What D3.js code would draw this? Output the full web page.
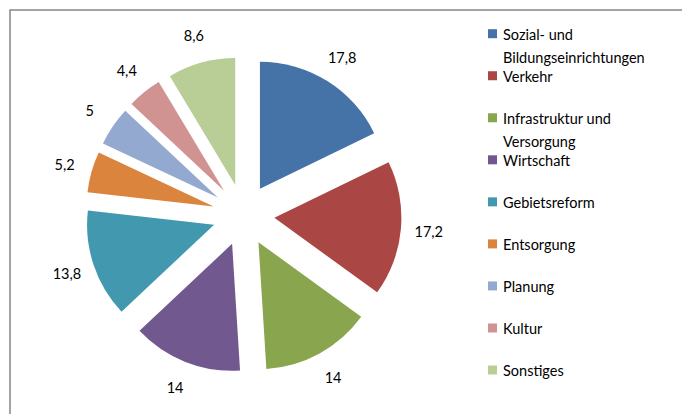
<!DOCTYPE html>
<html>
<head>
<meta charset="utf-8">
<script src="https://cdn.jsdelivr.net/npm/d3@7"></script>
<style>
  body { margin: 0; background: #fff; }
  text { font-family: Lato, "Open Sans", sans-serif; fill: #000; }
</style>
</head>
<body>
<div id="chart"></div>
<script>
const categories = ["Sozial- und Bildungseinrichtungen", "Verkehr", "Infrastruktur und Versorgung",
  "Wirtschaft", "Gebietsreform", "Entsorgung", "Planung", "Kultur", "Sonstiges"];
const legendLines = [["Sozial- und", "Bildungseinrichtungen"], ["Verkehr"], ["Infrastruktur und", "Versorgung"],
  ["Wirtschaft"], ["Gebietsreform"], ["Entsorgung"], ["Planung"], ["Kultur"], ["Sonstiges"]];
const values = [17.8, 17.2, 14, 14, 13.8, 5.2, 5, 4.4, 8.6];
const valueLabels = ["17,8", "17,2", "14", "14", "13,8", "5,2", "5", "4,4", "8,6"];
const colors = ["#4572A7", "#AA4643", "#89A54E", "#71588F", "#4198AF", "#DB843D", "#93A9CF", "#D19392", "#B9CD96"];

const width = 682, height = 414;
const cx = 243.5, cy = 215, radius = 127, explode = 31, labelR = 186;

const svg = d3.select("#chart")
  .append("svg")
  .attr("width", width)
  .attr("height", height);

// chart area border (runs off the right and bottom edges)
svg.append("rect")
  .attr("x", 10)
  .attr("y", 10)
  .attr("width", width + 20)
  .attr("height", height + 20)
  .attr("fill", "none")
  .attr("stroke", "#868686")
  .attr("stroke-width", 1.5);

const color = d3.scaleOrdinal().domain(categories).range(colors);

const pie = d3.pie().sort(null).value(d => d.value);
const arc = d3.arc().innerRadius(0).outerRadius(radius);

const data = categories.map((c, i) => ({ name: c, value: values[i], label: valueLabels[i] }));
const arcs = pie(data);

const g = svg.append("g")
  .attr("transform", `translate(${cx},${cy})`);

const mid = d => (d.startAngle + d.endAngle) / 2;

g.selectAll(".slice")
  .data(arcs)
  .enter()
  .append("path")
  .attr("class", "slice")
  .attr("fill", d => color(d.data.name))
  .attr("transform", d => `translate(${explode * Math.sin(mid(d))},${-explode * Math.cos(mid(d))})`)
  .attr("d", arc);

g.selectAll(".value-label")
  .data(arcs)
  .enter()
  .append("text")
  .attr("class", "value-label")
  .attr("text-anchor", "middle")
  .attr("dominant-baseline", "central")
  .attr("x", d => labelR * Math.sin(mid(d)))
  .attr("y", d => -labelR * Math.cos(mid(d)))
  .style("font-size", "14.5px")
  .text(d => d.data.label);

// Legend
const ly = d3.scalePoint().domain(categories).range([33.7, 370]);

const legend = svg.append("g").attr("class", "legend");

const item = legend.selectAll(".item")
  .data(categories)
  .enter()
  .append("g")
  .attr("class", "item")
  .attr("transform", d => `translate(488,${ly(d)})`);

item.append("rect")
  .attr("x", 0)
  .attr("y", -4.5)
  .attr("width", 9)
  .attr("height", 9)
  .attr("fill", d => color(d));

item.append("text")
  .attr("x", 15)
  .attr("y", 0)
  .attr("dominant-baseline", "central")
  .style("font-size", "14.5px")
  .selectAll("tspan")
  .data((d, i) => legendLines[i])
  .enter()
  .append("tspan")
  .attr("x", 15)
  .attr("dy", (d, i) => i === 0 ? 0 : 23)
  .text(d => d);
</script>
</body>
</html>
